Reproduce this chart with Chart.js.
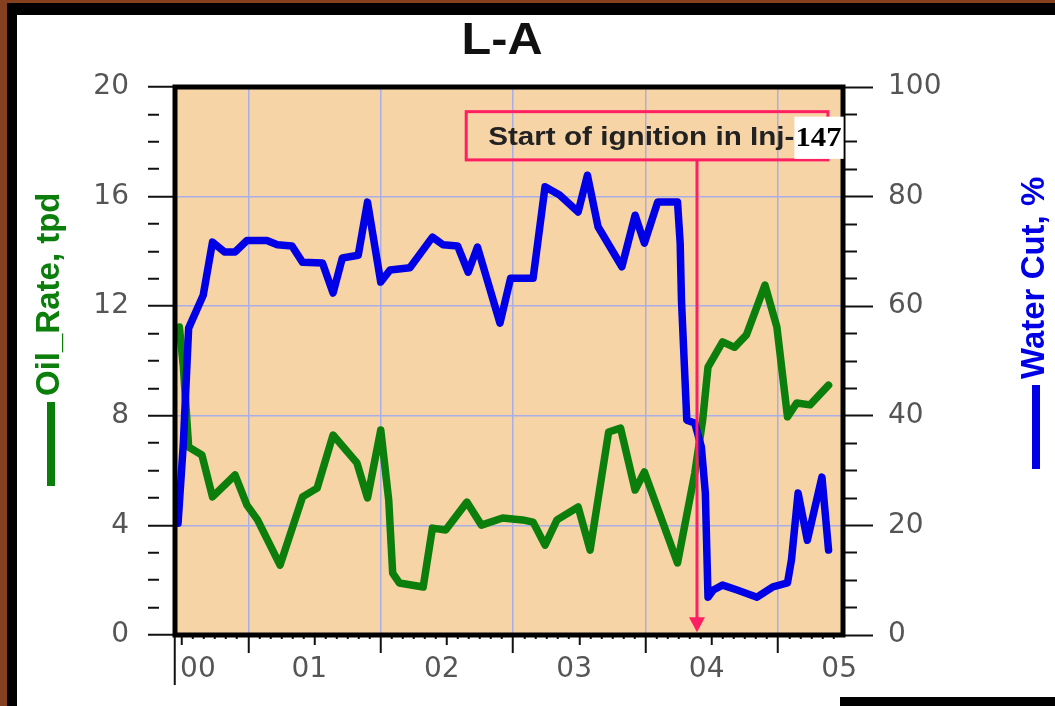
<!DOCTYPE html>
<html>
<head>
<meta charset="utf-8">
<title>L-A</title>
<script src="https://cdn.jsdelivr.net/npm/chart.js@4.4.1/dist/chart.umd.min.js"></script>
<style>
  html, body { margin: 0; padding: 0; width: 1055px; height: 706px; overflow: hidden; background: #84401f; }
  #edge  { position: absolute; left: 7px;  top: 3px;  width: 1048px; height: 703px; background: #000; }
  #sheet { position: absolute; left: 17px; top: 15px; width: 1038px; height: 691px; background: #fff; }
  #strip { position: absolute; left: 840px; top: 697px; width: 215px; height: 9px; background: #000; }
  #holder { position: absolute; left: 0; top: 0; width: 1055px; height: 706px; }
</style>
</head>
<body>
<div id="edge"></div>
<div id="sheet"></div>
<div id="strip"></div>
<div id="holder"><canvas id="chart" width="1055" height="706"></canvas></div>
<script>
// ---- well L-A production history (decimal years) ----
const oilYears = [2000.48, 2000.51, 2000.55, 2000.65, 2000.73, 2000.90, 2000.99,
  2001.07, 2001.24, 2001.41, 2001.52, 2001.64, 2001.82, 2001.90,
  2002.00, 2002.06, 2002.09, 2002.14, 2002.32, 2002.39, 2002.49, 2002.65, 2002.76, 2002.92,
  2003.07, 2003.15, 2003.24, 2003.33, 2003.49, 2003.58, 2003.72, 2003.81, 2003.92, 2003.99,
  2004.24, 2004.37, 2004.43, 2004.47, 2004.58, 2004.67, 2004.76, 2004.90, 2004.99,
  2005.07, 2005.14, 2005.24, 2005.38];
const oilRate = [11.24, 9.8, 6.86, 6.57, 5.04, 5.84, 4.74,
  4.2, 2.55, 5.04, 5.36, 7.3, 6.28, 5.0,
  7.48, 4.93, 2.26, 1.9, 1.75, 3.9, 3.83, 4.85, 4.01, 4.27,
  4.2, 4.12, 3.28, 4.2, 4.67, 3.1, 7.41, 7.55, 5.29, 5.95,
  2.63, 5.9, 7.85, 9.78, 10.7, 10.5, 10.95, 12.77, 11.24,
  7.96, 8.47, 8.4, 9.12];

const wcYears = [2000.47, 2000.51, 2000.55, 2000.66, 2000.73, 2000.82, 2000.90, 2000.99,
  2001.14, 2001.22, 2001.33, 2001.41, 2001.56, 2001.64, 2001.71, 2001.83, 2001.90,
  2002.00, 2002.07, 2002.22, 2002.39, 2002.47, 2002.58, 2002.66, 2002.73, 2002.90, 2002.98,
  2003.15, 2003.24, 2003.35, 2003.49, 2003.56, 2003.64, 2003.82, 2003.92, 2003.99,
  2004.09, 2004.24, 2004.26, 2004.27, 2004.31, 2004.37, 2004.42, 2004.45, 2004.47, 2004.51,
  2004.58, 2004.69, 2004.84, 2004.96,
  2005.07, 2005.10, 2005.15, 2005.22, 2005.33, 2005.38];
const waterCut = [20.4, 35, 56, 62, 71.7, 69.9, 69.9, 72,
  72, 71.2, 71, 68, 67.9, 62.4, 68.8, 69.3, 79,
  64.4, 66.6, 67, 72.6, 71.2, 71, 66.2, 70.8, 56.9, 65.1,
  65.1, 81.8, 80.3, 77.2, 83.9, 74.5, 67.2, 76.6, 71.5,
  79, 79, 71.5, 61, 39.2, 38.7, 34.3, 25.9, 6.9, 8.2,
  9.1, 8.2, 6.9, 8.8,
  9.5, 13.7, 25.9, 17.3, 28.8, 15.5];

// ---- axes ----
const xMin = 2000.447, xMax = 2005.489;
const yearLabelPos = [2000.62, 2001.46, 2002.46, 2003.46, 2004.46, 2005.46];
const yearLabels = ['00', '01', '02', '03', '04', '05'];
const oilMax = 20, oilMajor = 4, oilMinor = 1;
const wcMax = 100, wcMajor = 20, wcMinor = 5;

const chartTitle = 'L-A';
const oilAxisTitle = 'Oil_Rate, tpd';
const wcAxisTitle = 'Water Cut, %';

// ---- ignition marker ----
const ignitionYear = 2004.387;
const noteText = 'Start of ignition in Inj-';
const noteWell = '147';
const noteBox = { x0: 2002.645, x1: 2005.375, yTop: 19.1, yBottom: 17.34 };

// ---- look ----
const SANS = '"Liberation Sans", Arial, Helvetica, sans-serif';
const SERIF = '"Liberation Serif", "Times New Roman", serif';
const TICKS = '"DejaVu Sans", Verdana, sans-serif';
const plotFill = '#f7d4a5';
const gridColor = '#aaaee6';
const oilColor = '#0b7e0b';
const wcColor = '#0000e6';
const markColor = '#ff1f62';
const tickText = '#555555';

// tick stops along the time axis: plot start, then every month
const timeTicks = [xMin];
for (let m = Math.ceil(xMin * 12); m <= Math.floor(xMax * 12); m++) timeTicks.push(m / 12);

const near = (v, step) => Math.abs(v / step - Math.round(v / step)) < 1e-6;

// text drawn with a horizontal stretch factor
function wideText(ctx, text, x, y, sx, align) {
  ctx.save();
  ctx.translate(x, y);
  ctx.scale(sx, 1);
  ctx.textAlign = align;
  ctx.fillText(text, 0, 0);
  ctx.restore();
  return ctx.measureText(text).width * sx;
}

const plotDecor = {
  id: 'plotDecor',
  beforeDraw(chart) {
    const { ctx, chartArea: a } = chart;
    ctx.save();
    ctx.fillStyle = plotFill;
    ctx.fillRect(a.left, a.top, a.right - a.left, a.bottom - a.top);
    ctx.restore();
  },
  afterDatasetsDraw(chart) {
    const { ctx, chartArea: a, scales } = chart;
    const xs = scales.x, ys = scales.y;
    ctx.save();
    // frame
    ctx.strokeStyle = '#000';
    ctx.lineWidth = 5;
    ctx.strokeRect(a.left, a.top, a.right - a.left, a.bottom - a.top);

    // annotation box
    const bx0 = xs.getPixelForValue(noteBox.x0), bx1 = xs.getPixelForValue(noteBox.x1);
    const by0 = ys.getPixelForValue(noteBox.yTop), by1 = ys.getPixelForValue(noteBox.yBottom);
    ctx.strokeStyle = markColor;
    ctx.lineWidth = 3;
    ctx.strokeRect(bx0, by0, bx1 - bx0, by1 - by0);

    // arrow down to the time axis
    const ax = xs.getPixelForValue(ignitionYear);
    const tipY = ys.getPixelForValue(0.1);
    ctx.beginPath();
    ctx.moveTo(ax, by1);
    ctx.lineTo(ax, tipY - 12);
    ctx.stroke();
    ctx.fillStyle = markColor;
    ctx.beginPath();
    ctx.moveTo(ax - 8, tipY - 15);
    ctx.lineTo(ax + 8, tipY - 15);
    ctx.lineTo(ax, tipY);
    ctx.closePath();
    ctx.fill();

    // note text
    const cy = (by0 + by1) / 2;
    ctx.textBaseline = 'middle';
    ctx.font = 'bold 26px ' + SANS;
    ctx.fillStyle = '#222';
    const tx = bx0 + 22;
    const w = wideText(ctx, noteText, tx, cy + 2, 1.14, 'left');
    ctx.font = 'bold 27px ' + SERIF;
    const w2 = ctx.measureText(noteWell).width * 1.14;
    ctx.fillStyle = '#fff';
    ctx.fillRect(tx + w, by0 + 5, w2 + 3, by1 - by0 - 6);
    ctx.fillStyle = '#000';
    wideText(ctx, noteWell, tx + w + 1, cy + 3, 1.14, 'left');
    ctx.restore();
  },
  afterDraw(chart) {
    const { ctx } = chart;
    // chart title
    ctx.save();
    ctx.fillStyle = '#111';
    ctx.font = 'bold 45px ' + SANS;
    ctx.textBaseline = 'middle';
    wideText(ctx, chartTitle, 502, 42, 1.08, 'center');
    ctx.restore();

    // axis titles with their line keys
    const title = (cx, yStart, text, color) => {
      ctx.save();
      ctx.translate(cx, yStart);
      ctx.rotate(-Math.PI / 2);
      ctx.fillStyle = color;
      ctx.fillRect(0, -4, 84, 8);
      ctx.font = 'bold 33px ' + SANS;
      ctx.textBaseline = 'middle';
      ctx.textAlign = 'left';
      ctx.fillText(text, 90, -1);
      ctx.restore();
    };
    title(51, 486, oilAxisTitle, oilColor);
    title(1036, 469, wcAxisTitle, wcColor);
  }
};

const tickFont = { family: TICKS, size: 28 };

new Chart(document.getElementById('chart'), {
  type: 'line',
  data: {
    datasets: [
      {
        label: wcAxisTitle,
        data: wcYears.map((x, i) => ({ x, y: waterCut[i] })),
        yAxisID: 'y1',
        borderColor: wcColor,
        borderWidth: 7.5,
        pointRadius: 0,
        tension: 0,
        borderJoinStyle: 'round',
        borderCapStyle: 'round'
      },
      {
        label: oilAxisTitle,
        data: oilYears.map((x, i) => ({ x, y: oilRate[i] })),
        yAxisID: 'y',
        borderColor: oilColor,
        borderWidth: 7.5,
        pointRadius: 0,
        tension: 0,
        borderJoinStyle: 'round',
        borderCapStyle: 'round'
      }
    ]
  },
  options: {
    responsive: false,
    animation: false,
    events: [],
    layout: { padding: { top: 87, left: 0, right: 0, bottom: 0 } },
    plugins: {
      legend: { display: false },
      tooltip: { enabled: false },
      title: { display: false }
    },
    scales: {
      x: {
        type: 'linear',
        position: 'bottom',
        weight: 0,
        min: xMin,
        max: xMax,
        afterBuildTicks: s => { s.ticks = timeTicks.map(v => ({ value: v })); },
        ticks: { display: false },
        border: { display: false },
        grid: {
          color: c => near(c.tick.value, 1) ? gridColor : 'rgba(0,0,0,0)',
          lineWidth: 1.5,
          tickLength: 50,
          tickWidth: 2,
          tickColor: '#111',
          tickBorderDash: c => {
            const v = c.tick.value;
            if (v === xMin) return [];
            if (near(v, 1)) return [18, 100];
            if (near(v, 0.5)) return [10, 100];
            return [4, 100];
          }
        },
        afterFit: s => { s.height = 0; }
      },
      xl: {
        type: 'linear',
        position: 'bottom',
        weight: 1,
        min: xMin,
        max: xMax,
        afterBuildTicks: s => { s.ticks = yearLabelPos.map(v => ({ value: v })); },
        ticks: {
          autoSkip: false,
          maxRotation: 0,
          padding: 18,
          color: tickText,
          font: tickFont,
          callback: (v, i) => yearLabels[i]
        },
        border: { display: false },
        grid: { display: false, drawTicks: false },
        afterFit: s => { s.height = 71; }
      },
      y: {
        position: 'left',
        min: 0,
        max: oilMax,
        ticks: {
          stepSize: oilMinor,
          autoSkip: false,
          padding: 19,
          color: tickText,
          font: tickFont,
          callback: v => near(v, oilMajor) ? String(v) : ''
        },
        border: { display: false },
        grid: {
          color: c => near(c.tick.value, oilMajor) ? gridColor : 'rgba(0,0,0,0)',
          lineWidth: 1.5,
          tickLength: 27,
          tickWidth: 2,
          tickColor: '#111',
          tickBorderDash: c => near(c.tick.value, oilMajor) ? [] : [11, 60]
        },
        afterFit: s => { s.width = 175; }
      },
      y1: {
        position: 'right',
        min: 0,
        max: wcMax,
        ticks: {
          stepSize: wcMinor,
          autoSkip: false,
          padding: 15,
          color: tickText,
          font: tickFont,
          callback: v => near(v, wcMajor) ? String(v) : ''
        },
        border: { display: false },
        grid: {
          drawOnChartArea: false,
          tickLength: 30,
          tickWidth: 2,
          tickColor: '#111',
          tickBorderDash: c => near(c.tick.value, wcMajor) ? [] : [14, 60]
        },
        afterFit: s => { s.width = 212; }
      }
    }
  },
  plugins: [plotDecor]
});
</script>
</body>
</html>
